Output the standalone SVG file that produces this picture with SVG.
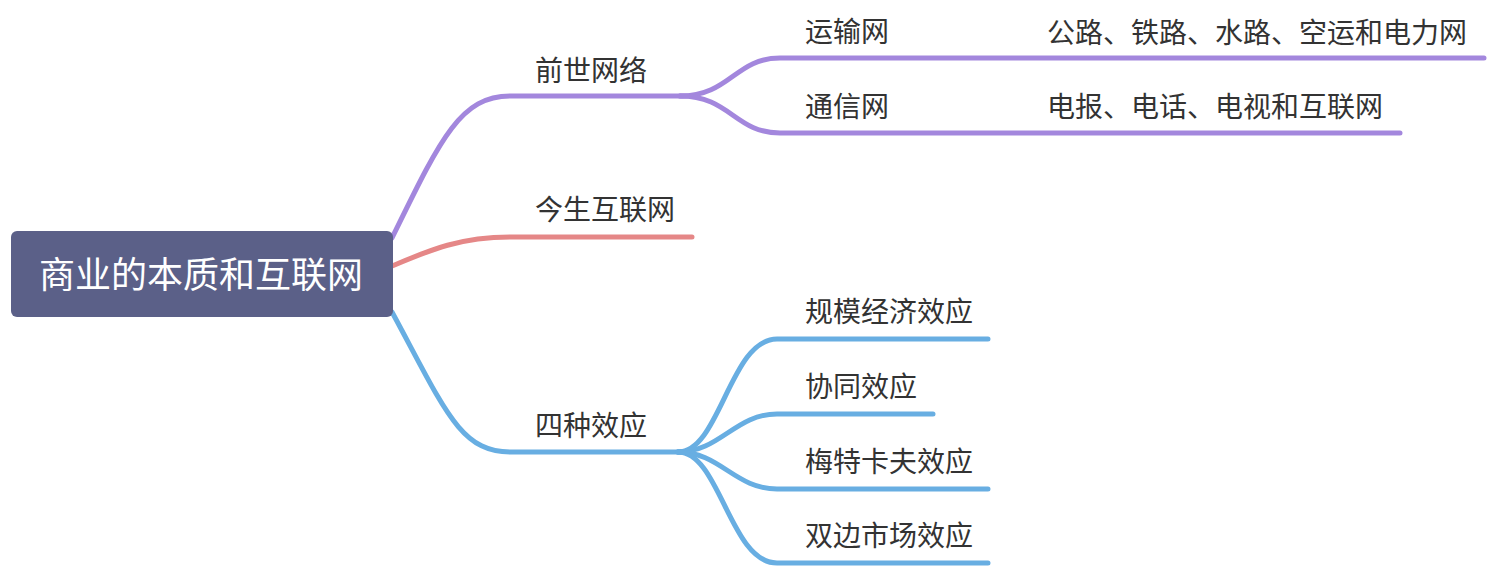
<svg xmlns="http://www.w3.org/2000/svg" width="1492" height="568" viewBox="0 0 1492 568">
<style>
.t{font-family:"Noto Sans CJK SC","Noto Sans",sans-serif;font-size:28px;fill:#333333}
.root{font-family:"Noto Sans CJK SC","Noto Sans",sans-serif;font-size:36px;fill:#ffffff}
.c{fill:none;stroke-width:5;stroke-linecap:round;stroke-linejoin:round}
.p{stroke:#a387dd}
.r{stroke:#e58787}
.b{stroke:#68aee2}
</style>
<rect width="1492" height="568" fill="#ffffff"/>
<g id="connectors">
<path class="c p" d="M392,238 C440,140 460,96 510,96 L690,96"/>
<path class="c p" d="M680,96 C730,96 735,58 780,58 L1484,58"/>
<path class="c p" d="M680,96 C730,96 735,133 780,133 L1400,133"/>
<path class="c r" d="M392,266 C430,250 460,237 510,237 L692,237"/>
<path class="c b" d="M392,312 C445,410 460,452 510,452 L690,452"/>
<path class="c b" d="M678,452 C720,452 730,339 777,339 L988,339"/>
<path class="c b" d="M678,452 C720,452 735,414 777,414 L933,414"/>
<path class="c b" d="M678,452 C720,452 735,489 777,489 L988,489"/>
<path class="c b" d="M678,452 C720,452 730,563 777,563 L988,563"/>
</g>
<g id="root">
<rect x="11" y="231" width="382" height="86" rx="6" fill="#5b6088"/>
<text class="root" x="201" y="288" text-anchor="middle">商业的本质和互联网</text>
</g>
<g id="n-qianshi"><text class="t" x="535" y="81">前世网络</text></g>
<g id="n-yunshu"><text class="t" x="805" y="42">运输网</text></g>
<g id="n-yunshu-d"><text class="t" x="1047" y="43">公路、铁路、水路、空运和电力网</text></g>
<g id="n-tongxin"><text class="t" x="805" y="117">通信网</text></g>
<g id="n-tongxin-d"><text class="t" x="1047" y="117">电报、电话、电视和互联网</text></g>
<g id="n-jinsheng"><text class="t" x="535" y="220">今生互联网</text></g>
<g id="n-sizhong"><text class="t" x="535" y="436">四种效应</text></g>
<g id="n-guimo"><text class="t" x="805" y="322">规模经济效应</text></g>
<g id="n-xietong"><text class="t" x="805" y="397">协同效应</text></g>
<g id="n-meitekafu"><text class="t" x="805" y="472">梅特卡夫效应</text></g>
<g id="n-shuangbian"><text class="t" x="805" y="546">双边市场效应</text></g>
</svg>
